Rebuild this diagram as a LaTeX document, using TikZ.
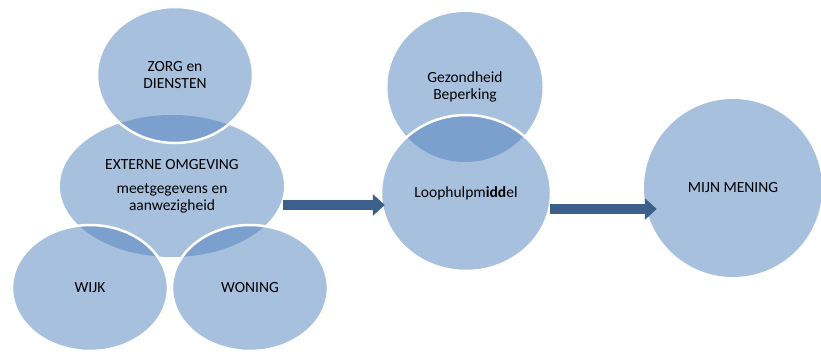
\documentclass[tikz,border=0pt]{standalone}
\usepackage{fontspec}
\setmainfont{Carlito}
\usetikzlibrary{shapes.geometric,arrows.meta}

\definecolor{bubblefill}{HTML}{A7C0DE}
\definecolor{overlapfill}{HTML}{7BA0CD}
\definecolor{arrowblue}{HTML}{3C5F8C}

\begin{document}
\begin{tikzpicture}[x=1pt,y=-1pt,
  bubble/.style={ellipse,fill=bubblefill,inner sep=0pt,align=center,
    font=\fontsize{15.5}{17}\selectfont},
  rim/.style={draw=white,line width=2.5pt},
  blockarrow/.style={-{Triangle[length=12pt,width=21pt]},draw=arrowblue,line width=9.5pt}]

  \useasboundingbox (0,0) rectangle (821,360);

  % bottom bubbles
  \node[bubble,minimum width=224pt,minimum height=142pt] (ext) at (172,186)
    {EXTERNE OMGEVING\\[7pt]meetgegevens en\\aanwezigheid};
  \node[bubble,minimum width=155pt,minimum height=150pt] (gez) at (465,87)
    {Gezondheid\\Beperking};

  % top bubbles
  \node[bubble,minimum width=156pt,minimum height=136pt] (zorg) at (175,75)
    {ZORG en\\DIENSTEN};
  \node[bubble,minimum width=156pt,minimum height=126pt] (wijk) at (90,288) {WIJK};
  \node[bubble,minimum width=156pt,minimum height=126pt] (woning) at (250,288) {WONING};
  \node[bubble,minimum width=170pt,minimum height=156pt] (loop) at (466,193)
    {Loophulpm\textbf{idd}el};
  \node[bubble,minimum width=178pt,minimum height=178pt] (mijn) at (733,188) {MIJN MENING};

  % darker overlaps
  \begin{scope}
    \clip (ext.center) ellipse [x radius=112,y radius=71];
    \fill[overlapfill] (zorg.center) ellipse [x radius=78,y radius=68];
    \fill[overlapfill] (wijk.center) ellipse [x radius=78,y radius=63];
    \fill[overlapfill] (woning.center) ellipse [x radius=78,y radius=63];
  \end{scope}
  \begin{scope}
    \clip (gez.center) ellipse [x radius=77.5,y radius=75];
    \fill[overlapfill] (loop.center) ellipse [x radius=85,y radius=78];
  \end{scope}

  % white rims
  \draw[rim] (zorg.center) ellipse [x radius=78,y radius=68];
  \draw[rim] (wijk.center) ellipse [x radius=78,y radius=63];
  \draw[rim] (woning.center) ellipse [x radius=78,y radius=63];
  \draw[rim] (loop.center) ellipse [x radius=85,y radius=78];

  % arrows
  \coordinate (a1) at ([yshift=-19pt]ext.east);
  \coordinate (a2) at ([yshift=-16pt]loop.east);
  \draw[blockarrow,shorten <=-1pt,shorten >=-4pt] (a1) -- (a1 -| loop.west);
  \draw[blockarrow,shorten <=-1pt,shorten >=-13pt] (a2) -- (a2 -| mijn.west);
\end{tikzpicture}
\end{document}
